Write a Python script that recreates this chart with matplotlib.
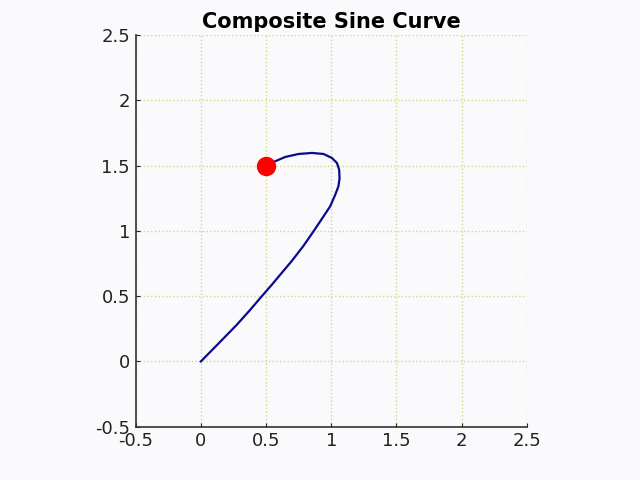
import matplotlib
matplotlib.use("Agg")
import matplotlib.pyplot as plt

# points
curve_x = [0.0, 0.138, 0.276, 0.372, 0.468, 0.545, 0.622, 0.698, 0.787, 0.864, 0.941,
           0.992, 1.031, 1.055, 1.064, 1.061, 1.044, 1.005, 0.941, 0.852, 0.749, 0.647,
           0.570, 0.500]
curve_y = [0.0, 0.140, 0.281, 0.388, 0.500, 0.588, 0.680, 0.770, 0.885, 0.996, 1.111,
           1.188, 1.277, 1.340, 1.400, 1.469, 1.520, 1.559, 1.589, 1.597, 1.589, 1.566,
           1.533, 1.500]
dot_x, dot_y = 0.5, 1.5
ticks = [-0.5, 0, 0.5, 1, 1.5, 2, 2.5]
tick_labels = ['-0.5', '0', '0.5', '1', '1.5', '2', '2.5']

bg = '#fafafc'
fig = plt.figure(figsize=(6.4, 4.8), dpi=100, facecolor=bg)
ax = fig.add_axes([0.212, 0.111, 0.611, 0.816], facecolor=bg)

ax.plot(curve_x, curve_y, color='#0a0a8c', lw=1.6, zorder=3,
        solid_joinstyle='round')
ax.plot([dot_x], [dot_y], 'o', color='#ff0000', ms=13, zorder=4)

ax.set_xlim(-0.5, 2.5)
ax.set_ylim(-0.5, 2.5)
ax.set_xticks(ticks)
ax.set_yticks(ticks)
ax.set_xticklabels(tick_labels)
ax.set_yticklabels(tick_labels)
ax.tick_params(direction='in', length=3, labelsize=13, colors='#222222', pad=4)
ax.grid(True, color='#d6d68a', linestyle=':', linewidth=1.0)
ax.set_axisbelow(True)

for side in ['top', 'right']:
    ax.spines[side].set_visible(False)
for side in ['left', 'bottom']:
    ax.spines[side].set_color('#333333')
    ax.spines[side].set_linewidth(1.2)

ax.set_title('Composite Sine Curve', fontsize=15, fontweight='bold', pad=5)

fig.savefig('out.png', dpi=100, facecolor=bg)
